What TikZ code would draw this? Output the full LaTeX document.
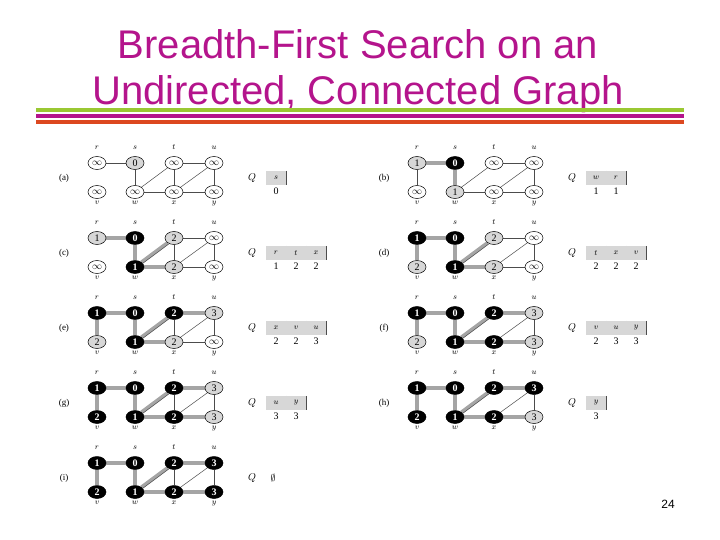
\documentclass[tikz,border=0pt]{standalone}
\usepackage{fontspec}
\setmainfont{Liberation Serif}
\newfontfamily\slidefont{Liberation Sans}
\usetikzlibrary{shapes.geometric, backgrounds}
\definecolor{bfsmagenta}{RGB}{180,20,140}
\definecolor{bfsgreen}{RGB}{154,200,50}
\definecolor{bfsorange}{RGB}{220,72,32}
\definecolor{bfsgray}{RGB}{215,215,215}
\definecolor{bfsband}{RGB}{165,165,165}
\newcommand{\infy}{$\infty$}
\tikzset{
  vtx/.style={ellipse, draw=black, line width=0.5pt, minimum width=18pt,
              minimum height=13pt, inner sep=0pt, font=\fontsize{10}{10}\selectfont},
  wvtx/.style={vtx, fill=white},
  gvtx/.style={vtx, fill=bfsgray},
  bvtx/.style={vtx, fill=black, text=white, font=\fontsize{10}{10}\selectfont\bfseries},
  toplbl/.style={font=\fontsize{8.5}{8.5}\selectfont, inner sep=1pt, text height=5pt,
                 text depth=1pt, yshift=5pt},
  botlbl/.style={font=\fontsize{8.5}{8.5}\selectfont, inner sep=1pt, text height=5pt,
                 text depth=1pt},
  spot r/.style={at={(0,0)}, label={[toplbl]above:$r$}},
  spot s/.style={at={(38,0)}, label={[toplbl]above:$s$}},
  spot t/.style={at={(77,0)}, label={[toplbl]above:$t$}},
  spot u/.style={at={(117,0)}, label={[toplbl]above:$u$}},
  spot v/.style={at={(0,29)}, label={[botlbl]below:$v$}},
  spot w/.style={at={(38,29)}, label={[botlbl]below:$w$}},
  spot x/.style={at={(77,29)}, label={[botlbl]below:$x$}},
  spot y/.style={at={(117,29)}, label={[botlbl]below:$y$}},
  edge/.style={line width=0.5pt, draw=black!70},
  tree/.style={line width=3.6pt, draw=bfsband},
  tag/.style={font=\fontsize{9}{9}\selectfont},
  qlbl/.style={font=\fontsize{10}{10}\selectfont},
  qcell/.style={rectangle, fill=bfsgray, minimum width=20pt, minimum height=14pt,
                inner sep=0pt, font=\fontsize{8.5}{8.5}\selectfont},
  qsep/.style={line width=0.5pt, draw=black!70},
  qval/.style={font=\fontsize{10}{10}\selectfont, inner sep=1pt},
  titletext/.style={font=\slidefont\fontsize{40}{40}\selectfont, text=bfsmagenta,
                    anchor=base, inner sep=0pt},
}
% one snapshot of the search: origin, tag, vertices, edges, tree edges, queue
\newcommand{\bfspanel}[6]{%
  \begin{scope}[shift={#1}, name prefix=#2-]
    \node[tag] (tag) at (-33,15) {(#2)};
    \foreach \n/\st/\val in {#3}
      \node[\st, spot \n] (\n) {\val};
    \begin{scope}[on background layer]
      \foreach \a/\b in {#4}
        \draw[edge] (\a) -- (\b);
      \foreach \a/\b in {#5}
        \draw[tree] (\a) -- (\b);
    \end{scope}
    \node[qlbl] (Q) at (155,15) {$Q$};
    #6
  \end{scope}}
% the thin edge w-t shows beside its band
\newcommand{\bfsdiag}{%
  \draw[edge, transform canvas={shift={(1.2pt,-1.2pt)}}] (w) -- (t);}
\newcommand{\bfsqueue}[1]{%
  \foreach \q/\d [count=\i from 0] in {#1} {
    \node[qcell] (c\i) at (179+20*\i,15) {$\q$};
    \draw[qsep] (c\i.north east) -- (c\i.south east);
    \node[qval] (d\i) at (179+20*\i,28) {\d};
  }}
\begin{document}
\begin{tikzpicture}[x=1pt, y=-1pt]
  \useasboundingbox (0,0) rectangle (720,540);
  \begin{scope}[on background layer]
    \fill[white] (0,0) rectangle (720,540);
  \end{scope}
  % slide title and rules
  \node[titletext] (title1) at (358,59) {Breadth-First Search on an};
  \node[titletext] (title2) at (358,105) {Undirected, Connected Graph};
  \draw[line width=3.5pt, bfsgreen] (36,110) -- (684,110);
  \draw[line width=3.5pt, bfsmagenta] (36,116) -- (684,116);
  \draw[line width=3.5pt, bfsorange] (36,122) -- (684,122);
  \node[font=\slidefont\fontsize{12}{12}\selectfont] (page) at (668,504) {24};

  \bfspanel{(97,163)}{a}
    {r/wvtx/\infy, s/gvtx/0, t/wvtx/\infy, u/wvtx/\infy,
     v/wvtx/\infy, w/wvtx/\infy, x/wvtx/\infy, y/wvtx/\infy}
    {r/s, s/w, w/t, w/x, t/x, t/u, x/u, x/y, u/y}
    {}
    {\bfsqueue{s/0}}
  \bfspanel{(417,163)}{b}
    {r/gvtx/1, s/bvtx/0, t/wvtx/\infy, u/wvtx/\infy,
     v/wvtx/\infy, w/gvtx/1, x/wvtx/\infy, y/wvtx/\infy}
    {r/v, w/t, w/x, t/u, x/u, x/y, u/y}
    {r/s, s/w}
    {\bfsqueue{w/1, r/1}}
  \bfspanel{(97,238)}{c}
    {r/gvtx/1, s/bvtx/0, t/gvtx/2, u/wvtx/\infy,
     v/wvtx/\infy, w/bvtx/1, x/gvtx/2, y/wvtx/\infy}
    {t/x, t/u, x/u, x/y, u/y}
    {r/s, s/w, w/t, w/x}
    {\bfsdiag \bfsqueue{r/1, t/2, x/2}}
  \bfspanel{(417,238)}{d}
    {r/bvtx/1, s/bvtx/0, t/gvtx/2, u/wvtx/\infy,
     v/gvtx/2, w/bvtx/1, x/gvtx/2, y/wvtx/\infy}
    {t/u, x/u, x/y, u/y}
    {r/s, r/v, s/w, w/t, w/x}
    {\bfsdiag \bfsqueue{t/2, x/2, v/2}}
  \bfspanel{(97,313)}{e}
    {r/bvtx/1, s/bvtx/0, t/bvtx/2, u/gvtx/3,
     v/gvtx/2, w/bvtx/1, x/gvtx/2, y/wvtx/\infy}
    {t/x, x/u, x/y, u/y}
    {r/s, r/v, s/w, w/t, w/x, t/u}
    {\bfsdiag \bfsqueue{x/2, v/2, u/3}}
  \bfspanel{(417,313)}{f}
    {r/bvtx/1, s/bvtx/0, t/bvtx/2, u/gvtx/3,
     v/gvtx/2, w/bvtx/1, x/bvtx/2, y/gvtx/3}
    {x/u, u/y}
    {r/s, r/v, s/w, w/t, w/x, t/u, x/y}
    {\bfsdiag \bfsqueue{v/2, u/3, y/3}}
  \bfspanel{(97,388)}{g}
    {r/bvtx/1, s/bvtx/0, t/bvtx/2, u/gvtx/3,
     v/bvtx/2, w/bvtx/1, x/bvtx/2, y/gvtx/3}
    {t/x, x/u, u/y}
    {r/s, r/v, s/w, w/t, w/x, t/u, x/y}
    {\bfsdiag \bfsqueue{u/3, y/3}}
  \bfspanel{(417,388)}{h}
    {r/bvtx/1, s/bvtx/0, t/bvtx/2, u/bvtx/3,
     v/bvtx/2, w/bvtx/1, x/bvtx/2, y/gvtx/3}
    {x/u, u/y}
    {r/s, r/v, s/w, w/t, w/x, t/u, x/y}
    {\bfsdiag \bfsqueue{y/3}}
  \bfspanel{(97,463)}{i}
    {r/bvtx/1, s/bvtx/0, t/bvtx/2, u/bvtx/3,
     v/bvtx/2, w/bvtx/1, x/bvtx/2, y/bvtx/3}
    {t/x, x/u, u/y}
    {r/s, r/v, s/w, w/t, w/x, t/u, x/y}
    {\bfsdiag \node[qval] (empty) at (176,15) {$\emptyset$};}
\end{tikzpicture}
\end{document}
